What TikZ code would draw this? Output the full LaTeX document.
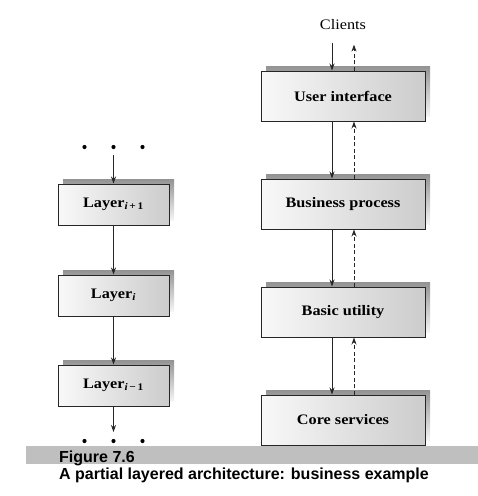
\documentclass[tikz,border=0pt]{standalone}
\usepackage{fontspec}
\setmainfont{Liberation Serif}
\newfontfamily\boxfont{Liberation Serif}[FakeStretch=1.12]
\newfontfamily\capfont{Liberation Sans}
\usetikzlibrary{arrows.meta,shadows,positioning}

\begin{document}
\begin{tikzpicture}[
  x=1pt, y=-1pt,
  layerbox/.style={rectangle, draw=black!85, line width=1pt,
    left color=gray!5, right color=gray!40,
    general shadow={shadow xshift=5pt, shadow yshift=5pt, top color=gray!85, bottom color=gray!8},
    font=\boxfont\bfseries\fontsize{14.5}{16}\selectfont},
  bigbox/.style={layerbox, minimum width=164pt, minimum height=50pt},
  smallbox/.style={layerbox, minimum width=111pt, minimum height=41pt},
  call/.style={-{Stealth[length=7pt,width=5pt]}, line width=0.9pt, black!85},
  reply/.style={call, dash pattern=on 4pt off 2.5pt},
  capline/.style={anchor=base west, inner sep=0pt, font=\capfont\bfseries\fontsize{16}{18}\selectfont}
]
  \useasboundingbox (0,0) rectangle (478,496);

  % right column
  \node (clients) at (343,25) [font=\boxfont\fontsize{14.5}{16}\selectfont] {Clients};
  \node (ui) at (343,96) [bigbox] {User interface};
  \node (bp) [below=57pt of ui, bigbox] {Business process};
  \node (bu) [below=57pt of bp, bigbox] {Basic utility};
  \node (cs) [below=57pt of bu, bigbox] {Core services};

  \draw [call] ([xshift=-11pt,yshift=-9pt]clients.south) -- ([xshift=-11pt]ui.north);
  \draw [reply] ([xshift=11pt]ui.north) -- ([xshift=11pt,yshift=-11pt]clients.south);
  \foreach \a/\b in {ui/bp, bp/bu, bu/cs} {
    \draw [call] ([xshift=-11pt]\a.south) -- ([xshift=-11pt]\b.north);
    \draw [reply] ([xshift=11pt]\b.north) -- ([xshift=11pt]\a.south);
  }

  % left column
  \coordinate (topdots) at (113.5,147);
  \coordinate (botdots) at (113.5,441);
  \foreach \dx in {-29,0,29} {
    \fill ([xshift=\dx pt]topdots) circle (2.1pt);
    \fill ([xshift=\dx pt]botdots) circle (2.1pt);
  }
  \node (lup) at (113.5,204.5) [smallbox] {Layer\textsubscript{\textit{i}\,+\,1}};
  \node (lmid) [below=49pt of lup, smallbox] {Layer\textsubscript{\textit{i}}};
  \node (ldown) [below=48pt of lmid, smallbox] {Layer\textsubscript{\textit{i}\,−\,1}};

  \draw [call] ([yshift=-8pt]topdots) -- (lup.north);
  \draw [call] (lup) -- (lmid);
  \draw [call] (lmid) -- (ldown);
  \draw [call] (ldown.south) -- ([yshift=9pt]botdots);

  % caption
  \fill [gray!50] (26,446) rectangle (478,464);
  \node (fignum) at (59,462) [capline] {Figure 7.6};
  \node (figtext) at (59,479) [capline] {A partial layered architecture: business example};
\end{tikzpicture}
\end{document}
